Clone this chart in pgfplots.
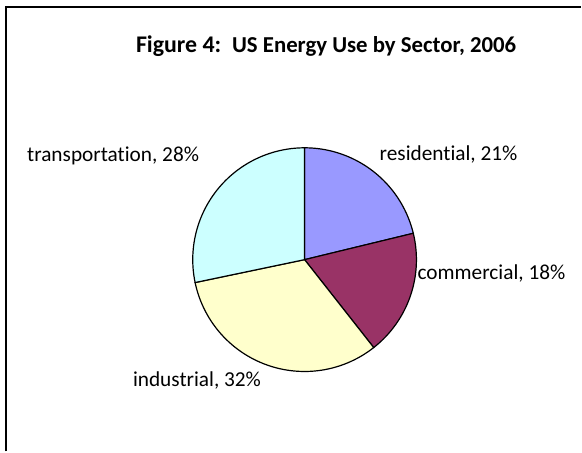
\documentclass[border=0pt]{standalone}
\usepackage{pgfplots}
\pgfplotsset{compat=1.18}
\usepgfplotslibrary{polar}
\usepackage{fontspec}
\setmainfont{Carlito}[Ligatures=NoCommon]

\definecolor{residential}{HTML}{9999FF}
\definecolor{commercial}{HTML}{993366}
\definecolor{industrial}{HTML}{FFFFCC}
\definecolor{transport}{HTML}{CCFFFF}

% shares in percent, clockwise from 12 o'clock
\def\pRes{21}
\def\pCom{18}
\def\pInd{32}
\def\pTra{28}
\pgfmathsetmacro{\total}{\pRes+\pCom+\pInd+\pTra}
\pgfmathsetmacro{\aA}{90}
\pgfmathsetmacro{\aB}{\aA-\pRes/\total*360}
\pgfmathsetmacro{\aC}{\aB-\pCom/\total*360}
\pgfmathsetmacro{\aD}{\aC-\pInd/\total*360}
\pgfmathsetmacro{\aE}{\aD-\pTra/\total*360}

\begin{document}
\begin{tikzpicture}[x=1bp,y=1bp]
\path (0,0) rectangle (582,-452);
\draw[line width=1.6bp] (6,-452) -- (6,-7) -- (582,-7);

% title
\node[anchor=base west,inner sep=0pt,font=\bfseries] at (136,-53)
  {{\fontsize{24}{28}\selectfont Figure 4:\ \ }{\fontsize{22.9}{27}\selectfont US Energy Use by Sector, 2006}};

\begin{polaraxis}[
    at={(305bp,-260bp)}, anchor=origin,
    width=224bp, height=224bp, scale only axis,
    ymin=0, ymax=1,
    hide axis,
    clip=false,
  ]
\addplot[fill=residential, draw=black, line width=1.2bp, domain=\aB:\aA, samples=60] {1} -- (axis cs:0,0) -- cycle;
\addplot[fill=commercial, draw=black, line width=1.2bp, domain=\aC:\aB, samples=60] {1} -- (axis cs:0,0) -- cycle;
\addplot[fill=industrial, draw=black, line width=1.2bp, domain=\aD:\aC, samples=60] {1} -- (axis cs:0,0) -- cycle;
\addplot[fill=transport, draw=black, line width=1.2bp, domain=\aE:\aD, samples=60] {1} -- (axis cs:0,0) -- cycle;
\end{polaraxis}

\begin{scope}[every node/.style={anchor=base west,inner sep=0pt,font=\fontsize{21.4}{25}\selectfont}]
\node at (380,-161) {residential, 21\%};
\node at (418,-280) {commercial, 18\%};
\node at (133,-387) {industrial, 32\%};
\node at (27,-162) {transportation, 28\%};
\end{scope}
\end{tikzpicture}
\end{document}
